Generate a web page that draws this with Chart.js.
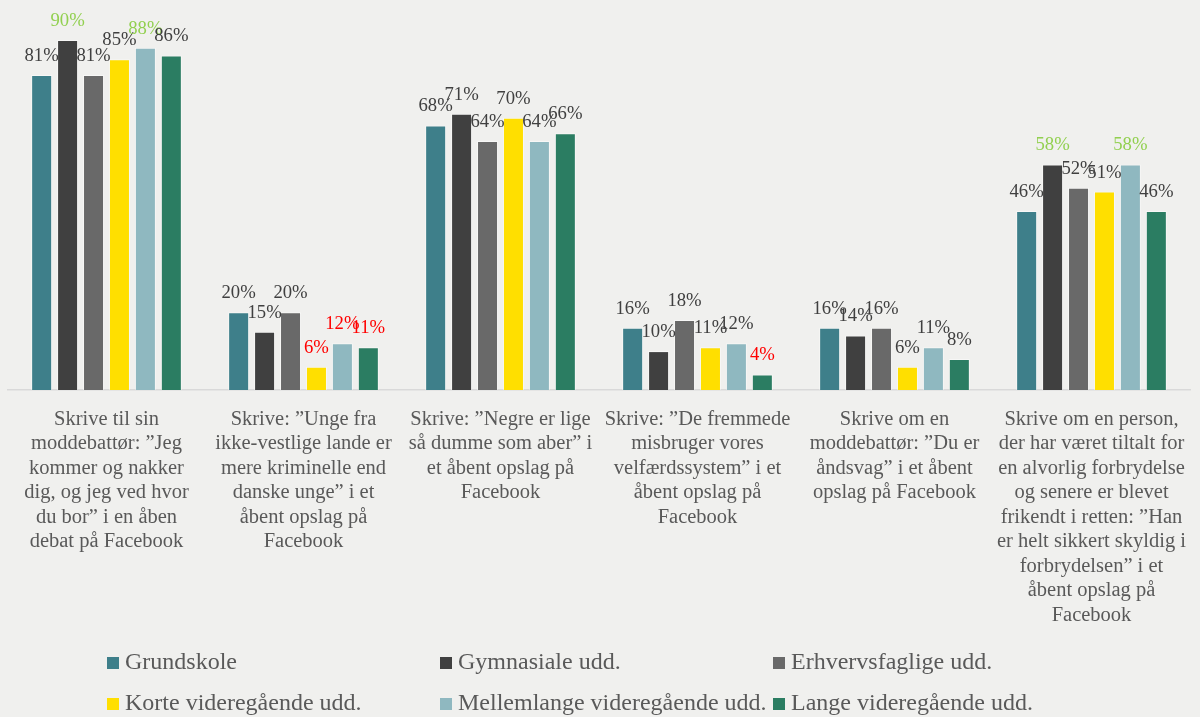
<!DOCTYPE html>
<html>
<head>
<meta charset="utf-8">
<script src="https://cdn.jsdelivr.net/npm/chart.js@4.4.0/dist/chart.umd.min.js"></script>
<style>
  html, body { margin: 0; padding: 0; background: #f0f0ee; }
  #wrap { width: 1200px; height: 717px; position: relative; }
</style>
</head>
<body>
<div id="wrap"><canvas id="chart" width="1200" height="717"></canvas></div>
<script>
const categories = [
    ["Skrive til sin", "moddebattør: ”Jeg", "kommer og nakker", "dig, og jeg ved hvor", "du bor” i en åben", "debat på Facebook"],
    ["Skrive: ”Unge fra", "ikke-vestlige lande er", "mere kriminelle end", "danske unge” i et", "åbent opslag på", "Facebook"],
    ["Skrive: ”Negre er lige", "så dumme som aber” i", "et åbent opslag på", "Facebook"],
    ["Skrive: ”De fremmede", "misbruger vores", "velfærdssystem” i et", "åbent opslag på", "Facebook"],
    ["Skrive om en", "moddebattør: ”Du er", "åndsvag” i et åbent", "opslag på Facebook"],
    ["Skrive om en person,", "der har været tiltalt for", "en alvorlig forbrydelse", "og senere er blevet", "frikendt i retten: ”Han", "er helt sikkert skyldig i", "forbrydelsen” i et", "åbent opslag på", "Facebook"],
];

const seriesNames = [
    "Grundskole",
    "Gymnasiale udd.",
    "Erhvervsfaglige udd.",
    "Korte videregående udd.",
    "Mellemlange videregående udd.",
    "Lange videregående udd.",
];

const grundskole = [81, 20, 68, 16, 16, 46];
const gymnasiale = [90, 15, 71, 10, 14, 58];
const erhvervsfaglige = [81, 20, 64, 18, 16, 52];
const korte = [85, 6, 70, 11, 6, 51];
const mellemlange = [88, 12, 64, 12, 11, 58];
const lange = [86, 11, 66, 4, 8, 46];

// which value labels are marked: "h" = highest (green), "l" = lowest (red)
const marks = [
    ["", "", "", "", "", ""],
    ["h", "", "", "", "", "h"],
    ["", "", "", "", "", ""],
    ["", "l", "", "", "", ""],
    ["h", "l", "", "", "", "h"],
    ["", "l", "", "l", "", ""],
];

const colors = ["#3e7f8a", "#404040", "#696969", "#ffdf00", "#8fb8c0", "#2b7d62"];
const markColors = { "": "#404040", h: "#92d050", l: "#ff0000" };
const serif = "'Liberation Serif', 'Times New Roman', serif";

const valueLabels = {
    id: "valueLabels",
    afterDatasetsDraw(chart) {
        const ctx = chart.ctx;
        ctx.save();
        ctx.font = "18.7px " + serif;
        ctx.textAlign = "center";
        ctx.textBaseline = "middle";
        chart.data.datasets.forEach((ds, i) => {
            const meta = chart.getDatasetMeta(i);
            meta.data.forEach((bar, j) => {
                ctx.fillStyle = markColors[marks[i][j]];
                ctx.fillText(ds.data[j] + "%", bar.x, bar.y - 19);
            });
        });
        ctx.restore();
    },
};

const boxLegend = {
    id: "boxLegend",
    afterDraw(chart) {
        const ctx = chart.ctx;
        ctx.save();
        ctx.font = "24px " + serif;
        ctx.textBaseline = "middle";
        ctx.textAlign = "left";
        chart.data.datasets.forEach((ds, i) => {
            const col = i % 3;
            const row = Math.floor(i / 3);
            const x = 107 + col * 333;
            const y = 663 + row * 41;
            ctx.fillStyle = ds.backgroundColor;
            ctx.fillRect(x, y - 6, 12, 12);
            ctx.fillStyle = "#595959";
            ctx.fillText(ds.label, x + 18, y);
        });
        ctx.restore();
    },
};

const seriesData = [grundskole, gymnasiale, erhvervsfaglige, korte, mellemlange, lange];

new Chart(document.getElementById("chart"), {
    type: "bar",
    data: {
        labels: categories,
        datasets: seriesData.map((d, i) => ({
            label: seriesNames[i],
            data: d,
            backgroundColor: colors[i],
            borderColor: "rgba(255,255,255,0.45)",
            borderWidth: 1,
            categoryPercentage: 0.79,
            barPercentage: 0.81,
        })),
    },
    options: {
        responsive: false,
        animation: false,
        layout: {
            padding: { top: 1, left: 8, right: 10, bottom: 75 },
        },
        scales: {
            x: {
                grid: { display: false },
                border: { display: true, color: "#d9d9d9", width: 1.5 },
                afterFit: (scale) => {
                    scale.height = 252;
                },
                ticks: {
                    color: "#595959",
                    maxRotation: 0,
                    minRotation: 0,
                    autoSkip: false,
                    padding: 9,
                    font: { family: serif, size: 20.5, lineHeight: 1.195 },
                },
            },
            y: {
                display: false,
                min: 0,
                max: 100,
            },
        },
        plugins: {
            legend: { display: false },
            tooltip: { enabled: false },
        },
    },
    plugins: [valueLabels, boxLegend],
});
</script>
</body>
</html>
